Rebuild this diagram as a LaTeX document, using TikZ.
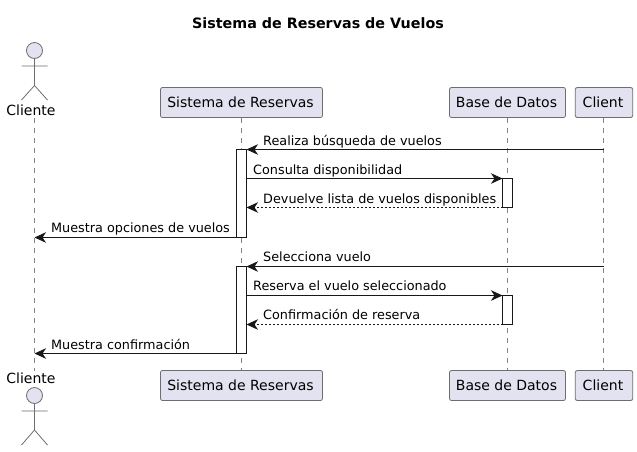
\documentclass[tikz,border=0pt]{standalone}
\usepackage{fontspec}
\setmainfont{DejaVu Sans}
\usetikzlibrary{arrows.meta}
\definecolor{pfill}{HTML}{E2E2F0}
\definecolor{pline}{HTML}{6E6E6E}
\definecolor{ink}{HTML}{181818}
\tikzset{
  partbox/.style={draw=pline,fill=pfill,rounded corners=2pt,line width=0.8pt,minimum height=30pt,inner sep=0pt,font=\fontsize{14}{16}\selectfont,text=black,execute at end node={\hspace{2pt}}},
  lifeline/.style={draw=pline!85,line width=0.6pt,dash pattern=on 5pt off 5pt},
  actorbody/.style={draw=pline,line width=0.8pt},
  actorhead/.style={circle,draw=pline,fill=pfill,line width=0.8pt,minimum size=16pt,inner sep=0pt},
  actorlabel/.style={font=\fontsize{14}{16}\selectfont,inner sep=0pt,text=black},
  actbar/.style={draw=ink,fill=white,line width=1pt},
  msg/.style={draw=ink,line width=1pt,-{Stealth[length=11.5pt,width=10.5pt,inset=3.5pt,color=ink]}},
  reply/.style={msg,dash pattern=on 2pt off 2pt},
  msglabel/.style={anchor=base west,font=\fontsize{12.8}{15}\selectfont,inner sep=0pt,text=black},
  titletext/.style={font=\bfseries\fontsize{14.3}{16}\selectfont,inner sep=0pt,text=black,anchor=base},
}
\begin{document}
\begin{tikzpicture}[x=1pt,y=-1pt]
\useasboundingbox (0,0) rectangle (637,451);
\fill[white] (0,0) rectangle (637,451);
\node[titletext] (title) at (318,28) {Sistema de Reservas de Vuelos};

% lifeline ends
\coordinate (c1) at (34.5,118);
\coordinate (c2) at (34.5,371);
\coordinate (st) at (241.3,118);
\coordinate (sb) at (241.3,370);
\coordinate (bt) at (507,118);
\coordinate (bb) at (507,370);
\coordinate (kt) at (603.4,118);
\coordinate (kb) at (603.4,370);

% participant boxes
\node[partbox,minimum width=162pt] (s1) at (241.5,102.5) {Sistema de Reservas};
\node[partbox,minimum width=116pt] (b1) at (507.5,102.5) {Base de Datos};
\node[partbox,minimum width=57.4pt] (k1) at (604,102.5) {Client};
\node[partbox,minimum width=162pt] (s2) at (241.5,385.5) {Sistema de Reservas};
\node[partbox,minimum width=116pt] (b2) at (507.5,385.5) {Base de Datos};
\node[partbox,minimum width=57.4pt] (k2) at (604,385.5) {Client};

% lifelines
\draw[lifeline] (c1) -- (c2);
\draw[lifeline] (st) -- (sb);
\draw[lifeline] (bt) -- (bb);
\draw[lifeline] (kt) -- (kb);

% actors
\node[actorhead] (h1) at (34.5,50.5) {};
\coordinate (hip1) at (34.5,85.5);
\coordinate (al1) at (21.5,66);
\coordinate (ar1) at (47.5,66);
\coordinate (fl1) at (21.5,100);
\coordinate (fr1) at (47.5,100);
\draw[actorbody] (h1.south) -- (hip1) (al1) -- (ar1) (fl1) -- (hip1) -- (fr1);
\node[actorlabel,anchor=base] (cl1) at (31,115) {Cliente};

\node[actorhead] (h2) at (34.5,395.5) {};
\coordinate (hip2) at (34.5,430);
\coordinate (al2) at (21.5,411);
\coordinate (ar2) at (47.5,411);
\coordinate (fl2) at (21.5,445);
\coordinate (fr2) at (47.5,445);
\draw[actorbody] (h2.south) -- (hip2) (al2) -- (ar2) (fl2) -- (hip2) -- (fr2);
\node[actorlabel,anchor=base] (cl2) at (31,383.5) {Cliente};

% activation bars
\draw[actbar] (236.5,149.5) rectangle (246.5,237.5);
\draw[actbar] (236.5,266.5) rectangle (246.5,353.5);
\draw[actbar] (502.5,178.5) rectangle (512.5,207.5);
\draw[actbar] (502.5,295.5) rectangle (512.5,324.5);

% message end points
\foreach \n/\y in {1/149.5,2/178.5,3/207.5,4/237.5,5/266.5,6/295.5,7/324.5,8/353.5}{
  \coordinate (cm\n) at (34.5,\y);
  \coordinate (sl\n) at (236.5,\y);
  \coordinate (sr\n) at (246.5,\y);
  \coordinate (bl\n) at (502.5,\y);
  \coordinate (kl\n) at (603.5,\y);
}

% messages
\draw[msg] (kl1) -- (sr1);
\draw[msg] (sr2) -- (bl2);
\draw[reply] (bl3) -- (sr3);
\draw[msg] (sl4) -- (cm4);
\draw[msg] (kl5) -- (sr5);
\draw[msg] (sr6) -- (bl6);
\draw[reply] (bl7) -- (sr7);
\draw[msg] (sl8) -- (cm8);

% labels
\node[msglabel] (m1) at (263,145) {Realiza búsqueda de vuelos};
\node[msglabel] (m2) at (253,174) {Consulta disponibilidad};
\node[msglabel] (m3) at (263,203) {Devuelve lista de vuelos disponibles};
\node[msglabel] (m4) at (51,232) {Muestra opciones de vuelos};
\node[msglabel] (m5) at (263,261.5) {Selecciona vuelo};
\node[msglabel] (m6) at (253,290) {Reserva el vuelo seleccionado};
\node[msglabel] (m7) at (263,319.5) {Confirmación de reserva};
\node[msglabel] (m8) at (51,349) {Muestra confirmación};
\end{tikzpicture}
\end{document}
